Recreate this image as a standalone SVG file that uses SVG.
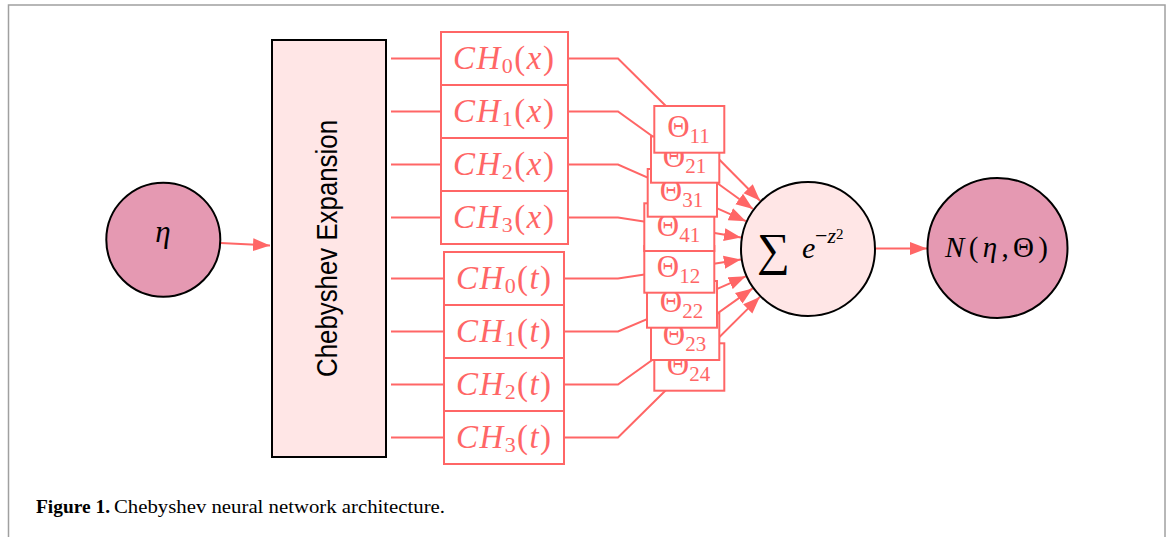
<svg xmlns="http://www.w3.org/2000/svg" width="1171" height="537" viewBox="0 0 1171 537">
<style>
.red{stroke:#ff6666;stroke-width:2;fill:none}
.arr{stroke:#ff6666;stroke-width:2;fill:none;marker-end:url(#ah)}
.box{fill:#ffffff;stroke:#ff6666;stroke-width:2}
.blk{stroke:#000;stroke-width:2}
.m{font-family:"Liberation Serif","DejaVu Serif",serif;fill:#ff6666}
.mb{font-family:"Liberation Serif","DejaVu Serif",serif;fill:#000}
.i{font-style:italic}
</style>
<defs>
<marker id="ah" markerUnits="userSpaceOnUse" markerWidth="18" markerHeight="14" refX="17" refY="7" orient="auto">
<path d="M0,0.5 L17,7 L0,13.5 Z" fill="#ff6666"/>
</marker>
</defs>
<rect x="0" y="0" width="1171" height="537" fill="#ffffff"/>
<rect x="8.5" y="5" width="1156.5" height="600" fill="none" stroke="#a0a0a0" stroke-width="1.5"/>

<g id="connectors">
<line class="arr" x1="220.5" y1="243" x2="270" y2="245.5"/>
<line class="red" x1="391" y1="58.5" x2="441" y2="58.5"/>
<line class="red" x1="391" y1="111.5" x2="441" y2="111.5"/>
<line class="red" x1="391" y1="164.5" x2="441" y2="164.5"/>
<line class="red" x1="391" y1="217.5" x2="441" y2="217.5"/>
<line class="red" x1="391" y1="278.5" x2="444" y2="278.5"/>
<line class="red" x1="391" y1="331.5" x2="444" y2="331.5"/>
<line class="red" x1="391" y1="384.5" x2="444" y2="384.5"/>
<line class="red" x1="391" y1="437.5" x2="444" y2="437.5"/>
<polyline class="red" points="568,58.5 618,58.5 689.3,129.3"/>
<polyline class="red" points="568,111.5 618,111.5 685,159.7"/>
<polyline class="red" points="568,164.5 618,164.5 682.3,192.8"/>
<polyline class="red" points="568,217.5 618,217.5 679.3,227"/>
<polyline class="red" points="564,278.5 618,278.5 679.3,269.3"/>
<polyline class="red" points="564,331.5 618,331.5 682,304.3"/>
<polyline class="red" points="564,384.5 618,384.5 685,336.5"/>
<polyline class="red" points="564,437.5 618,437.5 689.3,367"/>
<line class="arr" x1="689.3" y1="129.3" x2="760.1" y2="200.8"/>
<line class="arr" x1="685" y1="159.7" x2="753" y2="209"/>
<line class="arr" x1="682.3" y1="192.8" x2="745.9" y2="221.2"/>
<line class="arr" x1="679.3" y1="227" x2="741" y2="237.5"/>
<line class="arr" x1="679.3" y1="269.3" x2="740.8" y2="259.6"/>
<line class="arr" x1="682" y1="304.3" x2="745.7" y2="276.3"/>
<line class="arr" x1="685" y1="336.5" x2="752.6" y2="288.4"/>
<line class="arr" x1="689.3" y1="367" x2="759.8" y2="296.9"/>
<line class="arr" x1="876" y1="248.5" x2="927" y2="248.5"/>
</g>

<g id="eta">
<circle cx="163.3" cy="239.7" r="57" fill="#e599b2" class="blk"/>
<text x="163" y="241.5" font-size="31" text-anchor="middle" class="mb i">η</text>
</g>

<g id="expansion">
<rect x="272" y="40" width="114" height="417" fill="#ffe6e6" class="blk"/>
<text transform="translate(337,248.5) rotate(-90)" text-anchor="middle" font-family="Liberation Sans, Arial, sans-serif" font-size="29" textLength="257" lengthAdjust="spacingAndGlyphs" fill="#000">Chebyshev Expansion</text>
</g>

<g id="ch0x"><rect class="box" x="441" y="32" width="127" height="53"/>
<text class="m" x="503.5" y="68.5" font-size="33" text-anchor="middle" textLength="101" lengthAdjust="spacing"><tspan class="i">CH</tspan><tspan font-size="22" dy="4">0</tspan><tspan dy="-4">(</tspan><tspan class="i">x</tspan>)</text></g>
<g id="ch1x"><rect class="box" x="441" y="85" width="127" height="53"/>
<text class="m" x="503.5" y="121.5" font-size="33" text-anchor="middle" textLength="101" lengthAdjust="spacing"><tspan class="i">CH</tspan><tspan font-size="22" dy="4">1</tspan><tspan dy="-4">(</tspan><tspan class="i">x</tspan>)</text></g>
<g id="ch2x"><rect class="box" x="441" y="138" width="127" height="53"/>
<text class="m" x="503.5" y="174.5" font-size="33" text-anchor="middle" textLength="101" lengthAdjust="spacing"><tspan class="i">CH</tspan><tspan font-size="22" dy="4">2</tspan><tspan dy="-4">(</tspan><tspan class="i">x</tspan>)</text></g>
<g id="ch3x"><rect class="box" x="441" y="191" width="127" height="53"/>
<text class="m" x="503.5" y="227.5" font-size="33" text-anchor="middle" textLength="101" lengthAdjust="spacing"><tspan class="i">CH</tspan><tspan font-size="22" dy="4">3</tspan><tspan dy="-4">(</tspan><tspan class="i">x</tspan>)</text></g>

<g id="ch0t"><rect class="box" x="444" y="252" width="120" height="53"/>
<text class="m" x="503.5" y="288.5" font-size="33" text-anchor="middle" textLength="95" lengthAdjust="spacing"><tspan class="i">CH</tspan><tspan font-size="22" dy="4">0</tspan><tspan dy="-4">(</tspan><tspan class="i">t</tspan>)</text></g>
<g id="ch1t"><rect class="box" x="444" y="305" width="120" height="53"/>
<text class="m" x="503.5" y="341.5" font-size="33" text-anchor="middle" textLength="95" lengthAdjust="spacing"><tspan class="i">CH</tspan><tspan font-size="22" dy="4">1</tspan><tspan dy="-4">(</tspan><tspan class="i">t</tspan>)</text></g>
<g id="ch2t"><rect class="box" x="444" y="358" width="120" height="53"/>
<text class="m" x="503.5" y="394.5" font-size="33" text-anchor="middle" textLength="95" lengthAdjust="spacing"><tspan class="i">CH</tspan><tspan font-size="22" dy="4">2</tspan><tspan dy="-4">(</tspan><tspan class="i">t</tspan>)</text></g>
<g id="ch3t"><rect class="box" x="444" y="411" width="120" height="53"/>
<text class="m" x="503.5" y="447.5" font-size="33" text-anchor="middle" textLength="95" lengthAdjust="spacing"><tspan class="i">CH</tspan><tspan font-size="22" dy="4">3</tspan><tspan dy="-4">(</tspan><tspan class="i">t</tspan>)</text></g>

<g id="theta24"><rect class="box" x="654.3" y="343.3" width="70" height="47.4"/>
<text class="m" x="688.5" y="375" font-size="31" text-anchor="middle">Θ<tspan font-size="21" dy="6">24</tspan></text></g>
<g id="theta23"><rect class="box" x="651" y="313.3" width="68.3" height="46.7"/>
<text class="m" x="684.5" y="344.5" font-size="31" text-anchor="middle">Θ<tspan font-size="21" dy="6">23</tspan></text></g>
<g id="theta22"><rect class="box" x="647" y="281" width="70" height="46.7"/>
<text class="m" x="681.5" y="312.3" font-size="31" text-anchor="middle">Θ<tspan font-size="21" dy="6">22</tspan></text></g>
<g id="theta12"><rect class="box" x="644.3" y="246" width="70" height="46.7"/>
<text class="m" x="678.5" y="277" font-size="31" text-anchor="middle">Θ<tspan font-size="21" dy="6">12</tspan></text></g>
<g id="theta41"><rect class="box" x="644.3" y="203.3" width="70" height="47.7"/>
<text class="m" x="678.5" y="235.5" font-size="31" text-anchor="middle">Θ<tspan font-size="21" dy="6">41</tspan></text></g>
<g id="theta31"><rect class="box" x="647.7" y="169" width="69.3" height="47.7"/>
<text class="m" x="681.5" y="200.8" font-size="31" text-anchor="middle">Θ<tspan font-size="21" dy="6">31</tspan></text></g>
<g id="theta21"><rect class="box" x="651" y="136.5" width="68.3" height="46.2"/>
<text class="m" x="684.5" y="167.2" font-size="31" text-anchor="middle">Θ<tspan font-size="21" dy="6">21</tspan></text></g>
<g id="theta11"><rect class="box" x="654.3" y="106" width="70" height="46.7"/>
<text class="m" x="688.5" y="137.3" font-size="31" text-anchor="middle">Θ<tspan font-size="21" dy="6">11</tspan></text></g>

<g id="sum">
<circle cx="808" cy="249" r="67" fill="#ffe6e6" class="blk"/>
<text class="mb" font-size="30"><tspan x="757" y="265" font-size="46">∑</tspan><tspan x="802" y="258.3" class="i">e</tspan><tspan x="815" y="243" font-size="22">−</tspan><tspan class="i" font-size="22">z</tspan><tspan font-size="15" dy="-4">2</tspan></text>
</g>

<g id="output">
<circle cx="997.5" cy="248" r="70" fill="#e599b2" class="blk"/>
<text class="mb" x="996.5" y="256.7" font-size="29" text-anchor="middle" textLength="103" lengthAdjust="spacing"><tspan class="i">N</tspan>(<tspan class="i">η</tspan>,Θ)</text>
</g>

<g id="caption">
<text x="36" y="513" font-family="Liberation Serif, serif" font-size="19" font-weight="bold" fill="#000" textLength="74" lengthAdjust="spacingAndGlyphs">Figure 1.</text>
<text x="114" y="513" font-family="Liberation Serif, serif" font-size="19" fill="#000" textLength="331" lengthAdjust="spacingAndGlyphs">Chebyshev neural network architecture.</text>
</g>
</svg>
